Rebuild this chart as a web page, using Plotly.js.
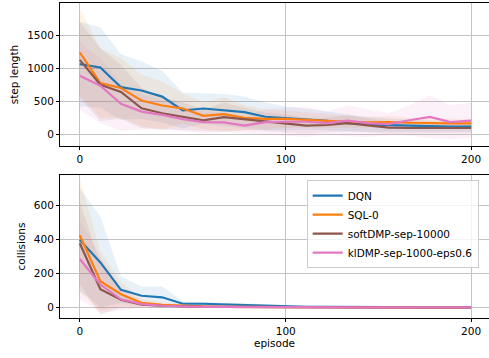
<!DOCTYPE html>
<html>
<head>
<meta charset="utf-8">
<script src="https://cdn.plot.ly/plotly-3.0.1.min.js"></script>
<style>html,body{margin:0;padding:0;background:#fff;}#chart{width:489px;height:358px;}</style>
</head>
<body>
<div id="chart"></div>
<script>
// Episodes (sample positions) and axis tick labels
const episodes = [0,10,20,30,40,50,60,70,80,90,100,110,120,130,140,150,160,170,180,190];
const xTickVals = [0,100,190];
const xTickText = ['0','100','200'];

const seriesNames = ['DQN','SQL-0','softDMP-sep-10000','klDMP-sep-1000-eps0.6'];
const seriesColors = ['#1f77b4','#ff7f0e','#8c564b','#e377c2'];
const bandColors = ['rgba(31,119,180,0.1)','rgba(255,127,14,0.1)','rgba(140,86,75,0.1)','rgba(227,119,194,0.1)'];

// Step length (top panel)
const stepDQN     = [1060,1010,712,662,570,360,390,368,335,265,242,228,205,170,150,140,130,120,115,118];
const stepDQNHi   = [1700,1620,1210,1100,960,630,620,610,570,480,420,390,350,300,260,240,220,210,200,200];
const stepDQNLo   = [420,400,220,230,180,90,160,130,100,60,60,70,60,40,40,40,40,30,30,40];
const stepSQL     = [1240,775,700,510,435,390,280,305,250,232,232,215,200,190,180,185,175,165,165,165];
const stepSQLHi   = [1900,1300,1150,900,800,620,480,560,440,380,360,330,300,280,260,280,250,240,240,230];
const stepSQLLo   = [580,250,250,120,70,160,80,50,60,80,100,100,100,100,100,90,100,90,90,100];
const stepSoft    = [1125,750,640,394,318,267,212,260,230,191,166,130,141,170,135,100,95,95,95,95];
const stepSoftHi  = [1700,1300,1050,700,560,480,380,480,400,330,300,250,250,290,240,190,180,180,170,170];
const stepSoftLo  = [550,200,230,90,80,60,50,40,60,50,30,10,30,50,30,10,10,10,20,20];
const stepKl      = [885,735,460,343,293,230,185,180,130,185,190,190,170,206,170,155,212,262,185,206];
const stepKlHi    = [1400,1150,760,600,520,420,350,330,250,380,400,420,340,440,380,320,440,590,440,480];
const stepKlLo    = [370,170,50,80,70,40,20,30,10,-10,-20,-40,0,-30,-40,-10,-20,-60,-70,-60];

// Collisions (bottom panel)
const colDQN      = [398,265,104,69,60,22,22,18,14,10,6,4,3,2,2,1,1,1,1,1];
const colDQNHi    = [700,535,182,123,123,35,32,28,24,18,12,8,6,4,4,3,3,3,3,3];
const colDQNLo    = [100,0,26,15,0,9,12,8,4,2,0,0,0,0,0,0,0,0,0,0];
const colSQL      = [425,155,78,27,16,10,6,4,3,2,2,1,1,1,1,1,1,1,1,1];
const colSQLHi    = [760,330,150,50,30,20,12,8,6,4,4,3,3,3,3,3,3,3,3,3];
const colSQLLo    = [90,-20,6,4,2,0,0,0,0,0,0,0,0,0,0,0,0,0,0,0];
const colSoft     = [378,108,45,16,10,6,4,3,2,2,1,1,1,1,1,1,1,1,1,1];
const colSoftHi   = [620,260,90,30,20,12,8,6,4,4,2,2,2,2,2,2,2,2,2,2];
const colSoftLo   = [140,-44,0,2,0,0,0,0,0,0,0,0,0,0,0,0,0,0,0,0];
const colKl       = [285,135,48,20,10,6,4,3,2,2,1,1,1,1,1,1,1,1,1,1];
const colKlHi     = [520,300,110,40,22,12,8,6,4,4,2,2,2,2,2,2,2,2,2,2];
const colKlLo     = [50,-30,-20,0,-2,0,0,0,0,0,0,0,0,0,0,0,0,0,0,0];

const topSets = [[stepDQN,stepDQNLo,stepDQNHi],[stepSQL,stepSQLLo,stepSQLHi],[stepSoft,stepSoftLo,stepSoftHi],[stepKl,stepKlLo,stepKlHi]];
const botSets = [[colDQN,colDQNLo,colDQNHi],[colSQL,colSQLLo,colSQLHi],[colSoft,colSoftLo,colSoftHi],[colKl,colKlLo,colKlHi]];

const traces = [];
function addBands(sets, xa, ya){
  sets.forEach((s,i)=>{
    traces.push({x:episodes,y:s[1],xaxis:xa,yaxis:ya,mode:'lines',line:{width:0,color:bandColors[i]},showlegend:false,hoverinfo:'skip'});
    traces.push({x:episodes,y:s[2],xaxis:xa,yaxis:ya,mode:'lines',line:{width:0,color:bandColors[i]},fill:'tonexty',fillcolor:bandColors[i],showlegend:false,hoverinfo:'skip'});
  });
}
function addLines(sets, xa, ya, legend){
  sets.forEach((s,i)=>{
    traces.push({x:episodes,y:s[0],xaxis:xa,yaxis:ya,mode:'lines',name:seriesNames[i],line:{width:2.2,color:seriesColors[i]},showlegend:legend});
  });
}
addBands(topSets,'x','y');
addBands(botSets,'x2','y2');
addLines(topSets,'x','y',false);
addLines(botSets,'x2','y2',true);

const fnt = {family:'DejaVu Sans, sans-serif', size:10.5, color:'#000'};
const xBase = {range:[-9.6,198.7], tickvals:xTickVals, ticktext:xTickText, showgrid:true, gridcolor:'#c4c4c4', gridwidth:1,
  zeroline:false, showline:true, linecolor:'#000', linewidth:1, mirror:true, ticks:'outside', ticklen:3, tickcolor:'#000', tickfont:fnt};
const yBase = {showgrid:true, gridcolor:'#c4c4c4', gridwidth:1, zeroline:false, showline:true, linecolor:'#000', linewidth:1,
  mirror:true, ticks:'outside', ticklen:3, tickcolor:'#000', tickfont:fnt};

const layout = {
  width:489, height:358,
  margin:{l:60, r:0, t:3, b:40},
  paper_bgcolor:'#fff', plot_bgcolor:'#fff',
  font:fnt,
  showlegend:true,
  xaxis: Object.assign({}, xBase, {domain:[0,1], anchor:'y'}),
  yaxis: Object.assign({}, yBase, {domain:[0.546,1], range:[-177,1985], tickvals:[0,500,1000,1500],
    title:{text:'step length', font:fnt, standoff:6}, anchor:'x'}),
  xaxis2: Object.assign({}, xBase, {domain:[0,1], anchor:'y2', title:{text:'episode', font:fnt, standoff:2}}),
  yaxis2: Object.assign({}, yBase, {domain:[0,0.454], range:[-62,780], tickvals:[0,200,400,600],
    title:{text:'collisions', font:fnt, standoff:6}, anchor:'x2'}),
  legend:{x:0.575, y:0.438, xanchor:'left', yanchor:'top', bgcolor:'rgba(255,255,255,0.8)', bordercolor:'#cccccc',
    borderwidth:1, font:fnt, itemwidth:30, tracegroupgap:0, traceorder:'normal'}
};

Plotly.newPlot('chart', traces, layout, {staticPlot:true, displayModeBar:false});
</script>
</body>
</html>
